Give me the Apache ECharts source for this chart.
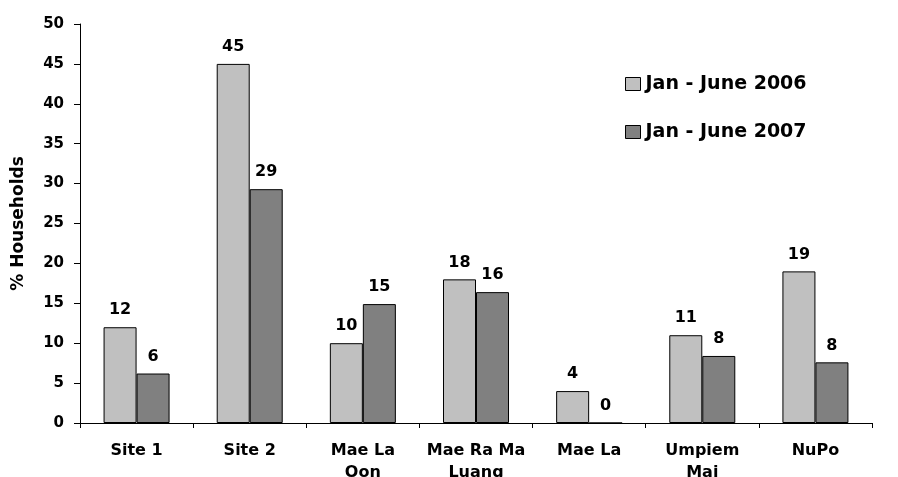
<!DOCTYPE html>
<html>
<head>
<meta charset="utf-8">
<script src="https://cdn.jsdelivr.net/npm/echarts@6/dist/echarts.min.js"></script>
<style>
  html, body { margin: 0; padding: 0; background: #fff; }
  #chart { width: 898px; height: 477px; }
</style>
</head>
<body>
<div id="chart"></div>
<script>
// Households (%) by site, two survey periods
const sites = ['Site 1', 'Site 2', 'Mae La\nOon', 'Mae Ra Ma\nLuang', 'Mae La', 'Umpiem\nMai', 'NuPo'];
const period2006 = [12, 45, 10, 18, 4, 11, 19];
const period2007 = [6.2, 29.3, 14.9, 16.4, 0, 8.4, 7.6];
const seriesNames = ['Jan - June 2006', 'Jan - June 2007'];
const yTicks = { min: 0, max: 50, interval: 5 };

const FONT = 'DejaVu Sans';
const chart = echarts.init(document.getElementById('chart'), null, { renderer: 'canvas' });

function barSeries(name, values, color) {
  return {
    name: name,
    type: 'bar',
    data: values,
    barWidth: 33,
    barGap: '0%',
    itemStyle: { color: color, borderColor: '#000', borderWidth: 1 },
    label: {
      show: true,
      position: 'top',
      distance: 8,
      color: '#000',
      fontFamily: FONT,
      fontWeight: 'bold',
      fontSize: 16,
      lineHeight: 18,
      formatter: p => String(Math.round(p.value))
    }
  };
}

chart.setOption({
  animation: false,
  backgroundColor: '#fff',
  grid: { left: 80, right: 26, top: 24, bottom: 54, containLabel: false, outerBoundsMode: 'none' },
  legend: {
    orient: 'vertical',
    left: 625,
    top: 74,
    padding: 0,
    icon: 'rect',
    itemWidth: 15,
    itemHeight: 13,
    itemGap: 28,
    data: seriesNames,
    textStyle: { color: '#000', fontFamily: FONT, fontWeight: 'bold', fontSize: 19, lineHeight: 20 },
    itemStyle: { borderColor: '#000', borderWidth: 1 }
  },
  xAxis: {
    type: 'category',
    data: sites,
    axisLine: { lineStyle: { color: '#000', width: 1 } },
    axisTick: { show: true, length: 5, lineStyle: { color: '#000' } },
    axisLabel: {
      interval: 0,
      margin: 17,
      color: '#000',
      fontFamily: FONT,
      fontWeight: 'bold',
      fontSize: 16,
      lineHeight: 22
    }
  },
  yAxis: {
    type: 'value',
    min: yTicks.min,
    max: yTicks.max,
    interval: yTicks.interval,
    name: '% Households',
    nameLocation: 'middle',
    nameGap: 53,
    nameRotate: 90,
    nameTextStyle: { color: '#000', fontFamily: FONT, fontWeight: 'bold', fontSize: 17 },
    splitLine: { show: false },
    axisLine: { show: true, lineStyle: { color: '#000', width: 1 } },
    axisTick: { show: true, length: 6, lineStyle: { color: '#000' } },
    axisLabel: { margin: 16, color: '#000', fontFamily: FONT, fontWeight: 'bold', fontSize: 15 }
  },
  series: [
    barSeries(seriesNames[0], period2006, '#c0c0c0'),
    barSeries(seriesNames[1], period2007, '#808080')
  ]
});
</script>
</body>
</html>
